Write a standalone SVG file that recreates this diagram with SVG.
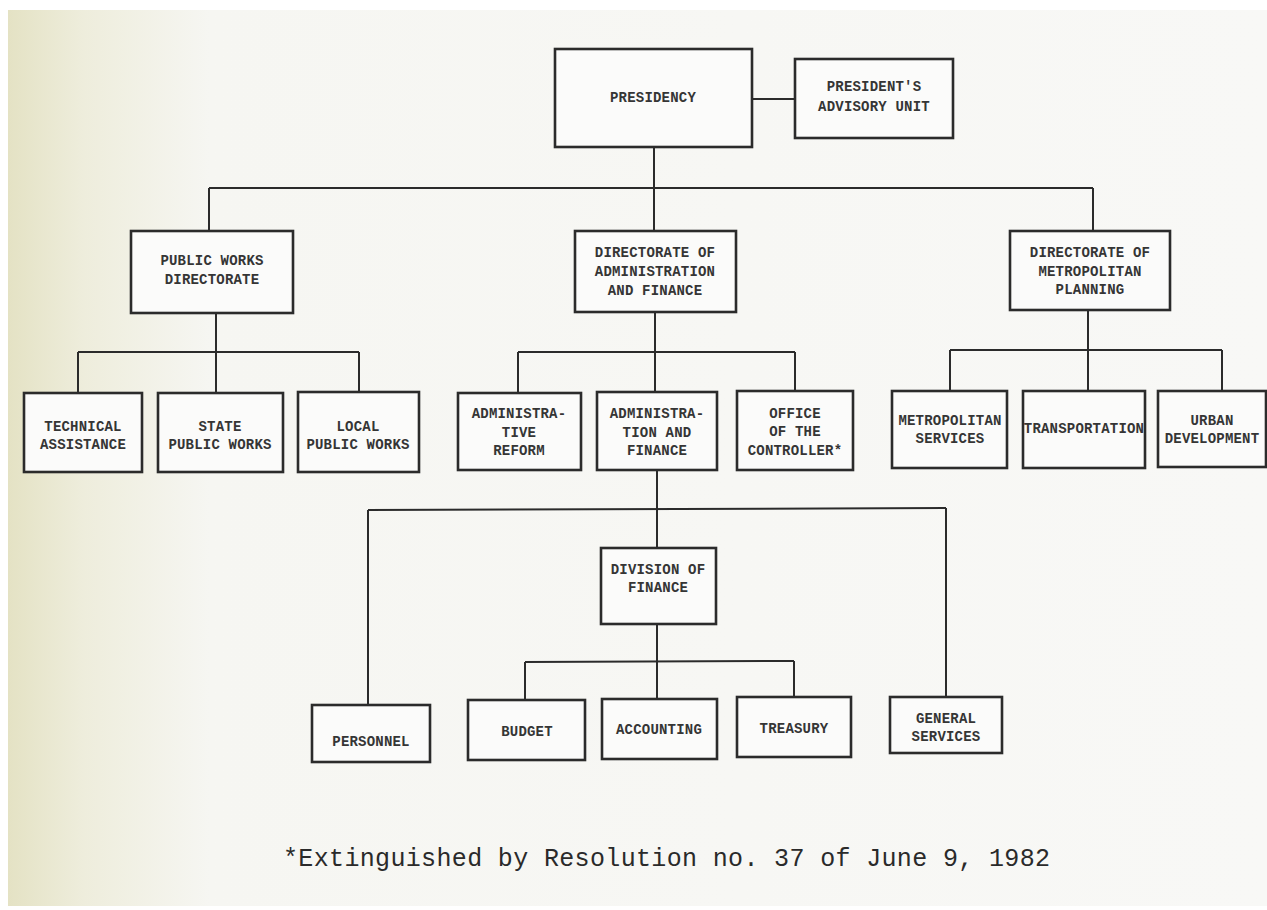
<svg xmlns="http://www.w3.org/2000/svg" width="1267" height="910" viewBox="0 0 1267 910">
<defs>
<linearGradient id="paper" x1="0" y1="0" x2="1" y2="0">
<stop offset="0" stop-color="#e4e2c4"/>
<stop offset="0.06" stop-color="#eeeddc"/>
<stop offset="0.16" stop-color="#f6f6f2"/>
<stop offset="1" stop-color="#f8f8f6"/>
</linearGradient>
<style>
.box{fill:#fbfbfa;stroke:#2b2b2b;stroke-width:2.6}
.ln{fill:none;stroke:#2b2b2b;stroke-width:2}
.t{font-family:"Liberation Mono","DejaVu Sans Mono",monospace;font-weight:bold;font-size:14px;fill:#353535;text-anchor:middle;letter-spacing:0.2px}
.note{font-family:"Liberation Mono","Courier New",monospace;font-size:25px;fill:#2a2a2a}
</style>
</defs>
<rect x="0" y="0" width="1267" height="910" fill="#ffffff"/>
<rect x="8" y="10" width="1259" height="896" fill="url(#paper)"/>

<g id="connectors">
<line class="ln" x1="752" y1="99" x2="795" y2="99"/>
<line class="ln" x1="654" y1="147" x2="654" y2="188"/>
<line class="ln" x1="209" y1="188" x2="1093" y2="188"/>
<line class="ln" x1="209" y1="188" x2="209" y2="231"/>
<line class="ln" x1="654" y1="188" x2="654" y2="231"/>
<line class="ln" x1="1093" y1="188" x2="1093" y2="231"/>
<line class="ln" x1="216" y1="313" x2="216" y2="393"/>
<line class="ln" x1="78" y1="352" x2="359" y2="352"/>
<line class="ln" x1="78" y1="352" x2="78" y2="393"/>
<line class="ln" x1="359" y1="352" x2="359" y2="392"/>
<line class="ln" x1="655" y1="312" x2="655" y2="392"/>
<line class="ln" x1="518" y1="352" x2="795" y2="352"/>
<line class="ln" x1="518" y1="352" x2="518" y2="393"/>
<line class="ln" x1="795" y1="352" x2="795" y2="391"/>
<line class="ln" x1="1088" y1="310" x2="1088" y2="391"/>
<line class="ln" x1="950" y1="350" x2="1222" y2="350"/>
<line class="ln" x1="950" y1="350" x2="950" y2="391"/>
<line class="ln" x1="1222" y1="350" x2="1222" y2="391"/>
<line class="ln" x1="657" y1="470" x2="657" y2="548"/>
<line class="ln" x1="368" y1="510" x2="946" y2="508"/>
<line class="ln" x1="368" y1="510" x2="368" y2="705"/>
<line class="ln" x1="946" y1="508" x2="946" y2="697"/>
<line class="ln" x1="657" y1="624" x2="657" y2="699"/>
<line class="ln" x1="525" y1="662" x2="794" y2="661"/>
<line class="ln" x1="525" y1="662" x2="525" y2="700"/>
<line class="ln" x1="794" y1="661" x2="794" y2="697"/>
</g>

<g id="presidency"><rect class="box" x="555" y="49" width="197" height="98"/><text class="t" x="653" y="102">PRESIDENCY</text></g>
<g id="advisory"><rect class="box" x="795" y="59" width="158" height="79"/><text class="t" x="874" y="91">PRESIDENT'S</text><text class="t" x="874" y="111">ADVISORY UNIT</text></g>

<g id="public-works"><rect class="box" x="131" y="231" width="162" height="82"/><text class="t" x="212" y="265">PUBLIC WORKS</text><text class="t" x="212" y="284">DIRECTORATE</text></g>
<g id="dir-admin"><rect class="box" x="575" y="231" width="161" height="81"/><text class="t" x="655" y="257">DIRECTORATE OF</text><text class="t" x="655" y="276">ADMINISTRATION</text><text class="t" x="655" y="295">AND FINANCE</text></g>
<g id="dir-metro"><rect class="box" x="1010" y="231" width="160" height="79"/><text class="t" x="1090" y="257">DIRECTORATE OF</text><text class="t" x="1090" y="276">METROPOLITAN</text><text class="t" x="1090" y="294">PLANNING</text></g>

<g id="technical"><rect class="box" x="24" y="393" width="118" height="79"/><text class="t" x="83" y="431">TECHNICAL</text><text class="t" x="83" y="449">ASSISTANCE</text></g>
<g id="state-pw"><rect class="box" x="158" y="393" width="125" height="79"/><text class="t" x="220" y="431">STATE</text><text class="t" x="220" y="449">PUBLIC WORKS</text></g>
<g id="local-pw"><rect class="box" x="298" y="392" width="121" height="80"/><text class="t" x="358" y="431">LOCAL</text><text class="t" x="358" y="449">PUBLIC WORKS</text></g>

<g id="admin-reform"><rect class="box" x="458" y="393" width="123" height="77"/><text class="t" x="519" y="418">ADMINISTRA-</text><text class="t" x="519" y="437">TIVE</text><text class="t" x="519" y="455">REFORM</text></g>
<g id="admin-finance"><rect class="box" x="597" y="392" width="120" height="78"/><text class="t" x="657" y="418">ADMINISTRA-</text><text class="t" x="657" y="437">TION AND</text><text class="t" x="657" y="455">FINANCE</text></g>
<g id="controller"><rect class="box" x="737" y="391" width="116" height="79"/><text class="t" x="795" y="418">OFFICE</text><text class="t" x="795" y="436">OF THE</text><text class="t" x="795" y="455">CONTROLLER*</text></g>

<g id="metro-services"><rect class="box" x="892" y="391" width="115" height="77"/><text class="t" x="950" y="425">METROPOLITAN</text><text class="t" x="950" y="443">SERVICES</text></g>
<g id="transportation"><rect class="box" x="1023" y="391" width="122" height="77"/><text class="t" x="1084" y="433">TRANSPORTATION</text></g>
<g id="urban"><rect class="box" x="1158" y="391" width="108" height="76"/><text class="t" x="1212" y="425">URBAN</text><text class="t" x="1212" y="443">DEVELOPMENT</text></g>

<g id="division-finance"><rect class="box" x="601" y="548" width="115" height="76"/><text class="t" x="658" y="574">DIVISION OF</text><text class="t" x="658" y="592">FINANCE</text></g>

<g id="personnel"><rect class="box" x="312" y="705" width="118" height="57"/><text class="t" x="371" y="746">PERSONNEL</text></g>
<g id="budget"><rect class="box" x="468" y="700" width="117" height="60"/><text class="t" x="527" y="736">BUDGET</text></g>
<g id="accounting"><rect class="box" x="602" y="699" width="115" height="60"/><text class="t" x="659" y="734">ACCOUNTING</text></g>
<g id="treasury"><rect class="box" x="737" y="697" width="114" height="60"/><text class="t" x="794" y="733">TREASURY</text></g>
<g id="general-services"><rect class="box" x="890" y="697" width="112" height="56"/><text class="t" x="946" y="723">GENERAL</text><text class="t" x="946" y="741">SERVICES</text></g>

<text class="note" x="283" y="866" textLength="767" lengthAdjust="spacing">*Extinguished by Resolution no. 37 of June 9, 1982</text>
</svg>
